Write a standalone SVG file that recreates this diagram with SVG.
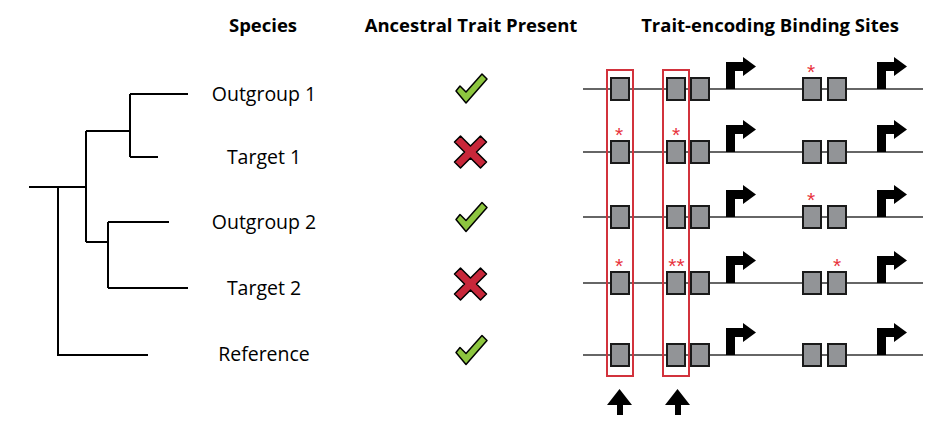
<svg xmlns="http://www.w3.org/2000/svg" xmlns:xlink="http://www.w3.org/1999/xlink" width="934" height="424" viewBox="0 0 934 424">
<style>
.hdr{font-family:"Open Sans","Liberation Sans",sans-serif;font-weight:bold;font-size:18.5px;fill:#000;text-anchor:middle}
.lbl{font-family:"Open Sans","Liberation Sans",sans-serif;font-size:19.5px;fill:#000;text-anchor:middle}
.tree{fill:none;stroke:#000;stroke-width:2}
.dna{stroke:#333;stroke-width:1.6}
.site{fill:#929497;stroke:#1a1a1a;stroke-width:2}
.sel{fill:none;stroke:#d2323c;stroke-width:2}
.mut{font-family:"Liberation Sans",sans-serif;font-size:21px;fill:#e8323c;text-anchor:middle}
.chk{fill:#8dc63f;stroke:#000;stroke-width:1.5;stroke-linejoin:round}
.crs{fill:#c8273a;stroke:#000;stroke-width:1.5;stroke-linejoin:round}
</style>
<defs>
<path id="prom" d="M0,0 L0,-27 L17,-27 L17,-32 L30,-22.5 L17,-13 L17,-18 L9,-18 L9,0 Z" fill="#000"/>
<polygon id="check" class="chk" points="-15,2 -11,-3 -5,3 11,-15 16,-10 -5,14"/>
<polygon id="cross" class="crs" points="-16,-10 -10,-16 0,-6 10,-16 16,-10 6,0 16,10 10,16 0,6 -10,16 -16,10 -6,0"/>
<path id="up" d="M0,0 L12.5,-16 L25,0 L16,0 L16,10 L10,10 L10,0 Z" fill="#000"/>
</defs>

<g id="headers">
<text class="hdr" x="263" y="32">Species</text>
<text class="hdr" x="471" y="32">Ancestral Trait Present</text>
<text class="hdr" x="770" y="32">Trait-encoding Binding Sites</text>
</g>

<g id="connectors">
<path class="tree" d="M130,94 H188 M130,157 H158 M130,94 V157 M86,131 H130 M86,131 V242 M108,222 H169 M108,288 H188 M108,222 V288 M86,242 H108 M29,187 H86 M58,187 V355 H148"/>
</g>

<g id="species">
<text id="outgroup1" class="lbl" x="264" y="101">Outgroup 1</text>
<text id="target1" class="lbl" x="264" y="164">Target 1</text>
<text id="outgroup2" class="lbl" x="264" y="229">Outgroup 2</text>
<text id="target2" class="lbl" x="264" y="295">Target 2</text>
<text id="reference" class="lbl" x="264" y="361">Reference</text>
</g>

<g id="traits">
<use xlink:href="#check" x="471" y="89"/>
<use xlink:href="#cross" x="470.5" y="152"/>
<use xlink:href="#check" x="471" y="217.5"/>
<use xlink:href="#cross" x="470.5" y="284"/>
<use xlink:href="#check" x="471" y="350.5"/>
</g>

<g id="row1">
<line class="dna" x1="583" y1="89" x2="923" y2="89"/>
<rect class="site" x="611" y="78" width="18" height="22"/>
<rect class="site" x="667" y="78" width="18" height="22"/>
<rect class="site" x="691" y="78" width="18" height="22"/>
<rect class="site" x="803" y="78" width="18" height="22"/>
<rect class="site" x="828" y="78" width="18" height="22"/>
<use xlink:href="#prom" x="726" y="89"/>
<use xlink:href="#prom" x="877" y="89"/>
<text class="mut" x="811" y="78.5">*</text>
</g>
<g id="row2">
<line class="dna" x1="583" y1="152" x2="923" y2="152"/>
<rect class="site" x="611" y="141" width="18" height="22"/>
<rect class="site" x="667" y="141" width="18" height="22"/>
<rect class="site" x="691" y="141" width="18" height="22"/>
<rect class="site" x="803" y="141" width="18" height="22"/>
<rect class="site" x="828" y="141" width="18" height="22"/>
<use xlink:href="#prom" x="726" y="152"/>
<use xlink:href="#prom" x="877" y="152"/>
<text class="mut" x="619" y="141.5">*</text>
<text class="mut" x="676" y="141.5">*</text>
</g>
<g id="row3">
<line class="dna" x1="583" y1="217" x2="923" y2="217"/>
<rect class="site" x="611" y="206" width="18" height="22"/>
<rect class="site" x="667" y="206" width="18" height="22"/>
<rect class="site" x="691" y="206" width="18" height="22"/>
<rect class="site" x="803" y="206" width="18" height="22"/>
<rect class="site" x="828" y="206" width="18" height="22"/>
<use xlink:href="#prom" x="726" y="217"/>
<use xlink:href="#prom" x="877" y="217"/>
<text class="mut" x="811" y="206.5">*</text>
</g>
<g id="row4">
<line class="dna" x1="583" y1="283" x2="923" y2="283"/>
<rect class="site" x="611" y="272" width="18" height="22"/>
<rect class="site" x="667" y="272" width="18" height="22"/>
<rect class="site" x="691" y="272" width="18" height="22"/>
<rect class="site" x="803" y="272" width="18" height="22"/>
<rect class="site" x="828" y="272" width="18" height="22"/>
<use xlink:href="#prom" x="726" y="283"/>
<use xlink:href="#prom" x="877" y="283"/>
<text class="mut" x="619" y="272.5">*</text>
<text class="mut" x="676.5" y="272.5">**</text>
<text class="mut" x="837" y="272.5">*</text>
</g>
<g id="row5">
<line class="dna" x1="583" y1="355" x2="923" y2="355"/>
<rect class="site" x="611" y="344" width="18" height="22"/>
<rect class="site" x="667" y="344" width="18" height="22"/>
<rect class="site" x="691" y="344" width="18" height="22"/>
<rect class="site" x="803" y="344" width="18" height="22"/>
<rect class="site" x="828" y="344" width="18" height="22"/>
<use xlink:href="#prom" x="726" y="355"/>
<use xlink:href="#prom" x="877" y="355"/>
</g>

<g id="selected">
<rect class="sel" x="607" y="70" width="26" height="306"/>
<rect class="sel" x="663" y="70" width="26" height="306"/>
<use xlink:href="#up" x="607" y="405"/>
<use xlink:href="#up" x="665" y="405"/>
</g>
</svg>
